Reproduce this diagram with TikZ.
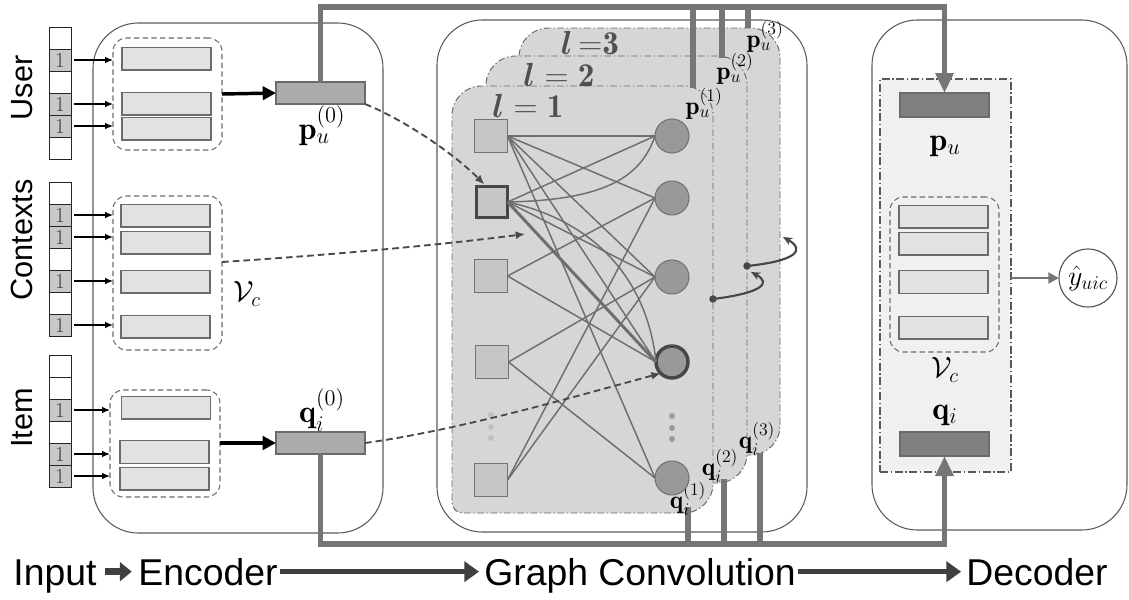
\RequirePackage{fix-cm}
\documentclass[tikz,border=0pt]{standalone}
\usepackage{amsmath}
\usepackage{fontspec}
\newfontfamily\sflab{Liberation Sans}
\usetikzlibrary{arrows.meta,calc}
\definecolor{linegray}{HTML}{767676}
\definecolor{boxedge}{HTML}{5A5A5A}
\definecolor{barfill}{HTML}{E2E2E2}
\definecolor{baredge}{HTML}{6B6B6B}
\definecolor{cellfill}{HTML}{C8C8C8}
\definecolor{layerfill}{HTML}{D6D6D6}
\definecolor{sqfill}{HTML}{C6C6C6}
\definecolor{cirfill}{HTML}{999999}
\definecolor{edgecol}{HTML}{6E6E6E}
\definecolor{darkarrow}{HTML}{4A4A4A}
\definecolor{panelfill}{HTML}{F0F0F0}
\definecolor{pfill}{HTML}{ABABAB}
\definecolor{decfill}{HTML}{808080}
\definecolor{labgray}{HTML}{505050}
\begin{document}
\begin{tikzpicture}[x=0.75pt,y=-0.75pt,
  every node/.style={inner sep=0pt,outer sep=0pt},
  bigbox/.style={draw=boxedge,line width=0.8pt,rounded corners=34pt},
  cellw/.style={draw=black!85,line width=0.6pt,fill=white,minimum width=16.5pt,minimum height=16.5pt},
  cellg/.style={cellw,fill=cellfill,text=black!75,font=\fontsize{16}{16}\selectfont},
  inarr/.style={-{Latex[length=6pt,width=5pt]},line width=0.9pt,black},
  grp/.style={draw=baredge,dash pattern=on 4pt off 2.5pt,line width=0.8pt,rounded corners=10pt},
  bar/.style={draw=baredge,line width=1pt,fill=barfill,minimum width=66.75pt,minimum height=17pt},
  pbar/.style={bar,fill=pfill,minimum height=16.5pt},
  dbar/.style={bar,fill=decfill,minimum height=18pt},
  blk/.style={-{Triangle[length=10pt,width=10pt]},line width=2.6pt,black},
  thk/.style={line width=4.2pt,draw=linegray},
  thkarr/.style={thk,-{Triangle[length=15pt,width=13pt]}},
  layer/.style={draw=black!60,fill=layerfill,line width=0.7pt,dash pattern=on 5pt off 2pt on 1pt off 2pt},
  sq/.style={draw=black!55,fill=sqfill,line width=0.8pt,minimum size=24.75pt},
  cir/.style={circle,draw=black!55,fill=cirfill,line width=0.8pt,minimum size=25.5pt},
  gedge/.style={draw=edgecol,line width=1.1pt},
  dsh/.style={draw=darkarrow,line width=1.4pt,dash pattern=on 5pt off 3pt,-{Latex[length=7pt,width=6pt]}},
  lp/.style={draw=black!72,line width=1.6pt,-{Stealth[length=7pt,width=6pt]}},
  mlab/.style={font=\fontsize{24}{26}\selectfont},
  slab/.style={font=\fontsize{19}{21}\selectfont},
  llab/.style={font=\fontsize{25}{27}\selectfont,text=labgray},
  side/.style={font=\sflab\fontsize{23}{25}\selectfont,rotate=90},
  bottom/.style={font=\sflab\fontsize{28}{30}\selectfont,anchor=base},
  botarr/.style={draw=black!75,line width=3.8pt,-{Triangle[length=11pt,width=15pt]}}
]
\useasboundingbox (0,0) rectangle (1129,600);

% ---------- big boxes ----------
\draw[bigbox] (93,23) rectangle (383,533);
\draw[bigbox] (437,20) rectangle (807,532);
\draw[bigbox] (872,20) rectangle (1127,530);

% ---------- input one-hot columns ----------
\node[cellw] (u0) at (60,38) {};
\node[cellg] (u1) at (60,60) {1};
\node[cellw] (u2) at (60,82) {};
\node[cellg] (u3) at (60,104) {1};
\node[cellg] (u4) at (60,126) {1};
\node[cellw] (u5) at (60,148) {};

\node[cellw] (c0) at (60,193) {};
\node[cellg] (cc1) at (60,215) {1};
\node[cellg] (cc2) at (60,237) {1};
\node[cellw] (cc3) at (60,259) {};
\node[cellg] (cc4) at (60,281) {1};
\node[cellw] (cc5) at (60,303) {};
\node[cellg] (cc6) at (60,325) {1};

\node[cellw] (i0) at (60,366) {};
\node[cellw] (i1) at (60,388) {};
\node[cellg] (i2) at (60,410) {1};
\node[cellw] (i3) at (60,432) {};
\node[cellg] (i4) at (60,454) {1};
\node[cellg] (i5) at (60,476) {1};

\node[side] (userlab) at (22,88) {User};
\node[side] (ctxlab) at (22,240) {Contexts};
\node[side] (itemlab) at (22,418) {Item};

% ---------- encoder groups ----------
\node[grp,minimum width=81.75pt,minimum height=84pt] (ug) at (167.5,94) {};
\node[grp,minimum width=81.75pt,minimum height=115.5pt] (cg) at (167.5,273) {};
\node[grp,minimum width=82.5pt,minimum height=80.25pt] (ig) at (165,443.5) {};

\node[bar] (ub1) at (166.5,58.5) {};
\node[bar] (ub2) at (166.5,103.5) {};
\node[bar] (ub3) at (166.5,128.5) {};
\node[bar] (cb1) at (165.5,215.5) {};
\node[bar] (cb2) at (165.5,242.5) {};
\node[bar] (cb3) at (165.5,281.5) {};
\node[bar] (cb4) at (165.5,326.5) {};
\node[bar] (ib1) at (166,407.5) {};
\node[bar] (ib2) at (164.5,452) {};
\node[bar] (ib3) at (164.5,478.5) {};

\foreach \n/\g in {u1/ug,u3/ug,u4/ug,cc1/cg,cc2/cg,cc4/cg,cc6/cg,i2/ig,i4/ig,i5/ig}
  \draw[inarr] ([xshift=2.5pt]\n.east) -- (\n.east -| \g.west);

\node[font=\fontsize{22}{24}\selectfont] (vc1) at (247,294) {$\mathcal{V}_c$};

\node[pbar] (p0) at (320.5,93) {};
\node[pbar] (q0) at (320.5,443) {};
\node[mlab] (p0lab) at (322,126) {$\mathbf{p}_u^{(0)}$};
\node[mlab] (q0lab) at (322,410) {$\mathbf{q}_i^{(0)}$};

\draw[blk] (ug.east) -- (p0.west);
\draw[blk] (ig.east |- q0) -- (q0.west);

% ---------- layers ----------
\foreach \dx/\dy in {67/-58,34/-30,0/0} {
  \begin{scope}[shift={(\dx,\dy)}]
    \draw[layer] (580,513) [rounded corners=8pt] -- (452,513) [rounded corners=22pt] -- (452,86) -- (713,86) -- (713,513) -- cycle;
  \end{scope}
}
\node[llab] (l1) at (528,106) {$\boldsymbol{l} = \mathbf{1}$};
\node[llab] (l2) at (559,75) {$\boldsymbol{l} = \mathbf{2}$};
\node[llab] (l3) at (590,43) {$\boldsymbol{l}\,{=}\mathbf{3}$};

% ---------- decoder ----------
\node[draw=black!65,fill=panelfill,line width=0.8pt,dash pattern=on 6pt off 2pt on 1pt off 2pt,minimum width=98.25pt,minimum height=294.75pt] (panel) at (945.5,275.5) {};
\node[dbar] (pu) at (944.5,105) {};
\node[dbar] (qi) at (944.5,444) {};
\node[grp,minimum width=81.75pt,minimum height=116.25pt] (dg) at (944.5,274.5) {};
\node[bar] (db1) at (943.5,216.5) {};
\node[bar] (db2) at (943.5,243.5) {};
\node[bar] (db3) at (943.5,282) {};
\node[bar] (db4) at (943.5,327.5) {};
\node[mlab] (pulab) at (945,146) {$\mathbf{p}_u$};
\node[font=\fontsize{22}{24}\selectfont] (vc2) at (945,370) {$\mathcal{V}_c$};
\node[mlab] (qilab) at (945,415) {$\mathbf{q}_i$};
\node[circle,draw=black!70,line width=0.8pt,minimum size=43.5pt] (yh) at (1088,278) {};
\node[font=\fontsize{21}{23}\selectfont] (yhlab) at (yh.center) {$\hat{y}_{uic}$};
\draw[line width=2.2pt,draw=linegray,-{Triangle[length=8pt,width=8pt]}] (panel.east |- yh) -- (yh.west);

% ---------- thick connectors ----------
\coordinate (topR) at (944.5,7);
\coordinate (botR) at (944.5,544);
\draw[thkarr] (p0.north) |- (topR) -- (pu.north);
\draw[thkarr] (q0.south) |- (botR) -- (qi.south);
\coordinate (tb1) at (693,7); \coordinate (te1) at (693,88);
\coordinate (tb2) at (722,7); \coordinate (te2) at (722,58);
\coordinate (tb3) at (748,7); \coordinate (te3) at (748,28);
\coordinate (bb1) at (688,544); \coordinate (be1) at (688,507);
\coordinate (bb2) at (724,544); \coordinate (be2) at (724,479);
\coordinate (bb3) at (760,544); \coordinate (be3) at (760,453);
\draw[thk] (tb1) -- (te1);
\draw[thk] (tb2) -- (te2);
\draw[thk] (tb3) -- (te3);
\draw[thk] (bb1) -- (be1);
\draw[thk] (bb2) -- (be2);
\draw[thk] (bb3) -- (be3);

\node[slab] (pu1) at (704,104) {$\mathbf{p}_u^{(1)}$};
\node[slab] (pu2) at (735,69) {$\mathbf{p}_u^{(2)}$};
\node[slab] (pu3) at (765,37) {$\mathbf{p}_u^{(3)}$};
\node[slab] (qi1) at (688,499) {$\mathbf{q}_i^{(1)}$};
\node[slab] (qi2) at (720,466) {$\mathbf{q}_i^{(2)}$};
\node[slab] (qi3) at (757,439) {$\mathbf{q}_i^{(3)}$};

% ---------- graph ----------
\node[sq] (s1) at (491,136) {};
\node[sq,draw=black!72,line width=2.6pt,minimum size=23.5pt] (s2) at (492,202) {};
\node[sq] (s3) at (491,276) {};
\node[sq] (s4) at (492,362) {};
\node[sq] (s5) at (491,480) {};
\node[cir] (k1) at (672,136) {};
\node[cir] (k2) at (672,198) {};
\node[cir] (k3) at (672,277) {};
\node[cir,draw=black!72,line width=2.6pt,minimum size=24pt] (k4) at (672,362) {};
\node[cir] (k5) at (672,478) {};
\foreach \yy in {415,427,438} \fill[black!25] (491,\yy) circle (2.2pt);
\foreach \yy in {416,428,439} \fill[black!40] (672,\yy) circle (2.2pt);

\foreach \a/\b in {s1/k1,s1/k2,s1/k3,s1/k4,s1/k5,s2/k1,s2/k3,s3/k2,s3/k4,s4/k3,s4/k5,s5/k2,s5/k3}
  \draw[gedge] (\a.east) -- (\b.west);
\draw[gedge,line width=2.2pt] (s2.east) -- (k4.west);
\draw[gedge] (s2.east) .. controls (600,200) and (640,180) .. (k1.west);
\draw[gedge] (s2.east) .. controls (600,222) and (648,285) .. (k4.west);

% ---------- dashed arrows ----------
\coordinate (ctxstart) at ($(cg.east)+(0,-11)$);
\coordinate (ctxend) at (525,234);
\draw[dsh] (p0.south east) .. controls (400,118) and (450,150) .. ($(s2.north west)+(8,-2)$);
\draw[dsh] (ctxstart) .. controls (330,255) and (440,245) .. (ctxend);
\draw[dsh] (q0.east) .. controls (460,430) and (580,395) .. (k4.south west);

% ---------- loops ----------
\coordinate (d1) at (713,299);
\coordinate (d2) at (747,266);
\coordinate (t1) at (751,272);
\coordinate (t2) at (783,237);
\fill[black!72] (d1) circle (2.8pt);
\fill[black!72] (d2) circle (2.8pt);
\draw[lp] (d1) .. controls (762,293) and (772,283) .. (t1);
\draw[lp] (d2) .. controls (796,261) and (806,250) .. (t2);

% ---------- bottom pipeline ----------
\node[bottom] (inp) at (55,585) {Input};
\node[bottom] (enc) at (208,585) {Encoder};
\node[bottom] (gcn) at (640,585) {Graph Convolution};
\node[bottom] (dec) at (1037,585) {Decoder};
\draw[botarr,line width=5pt,-{Triangle[length=9pt,width=14pt]}] ([xshift=6pt,yshift=10pt]inp.base east) -- ([xshift=-5pt,yshift=10pt]enc.base west);
\draw[botarr] ([xshift=2pt,yshift=10pt]enc.base east) -- ([xshift=-4pt,yshift=10pt]gcn.base west);
\draw[botarr] ([xshift=2pt,yshift=10pt]gcn.base east) -- ([xshift=-4pt,yshift=10pt]dec.base west);
\end{tikzpicture}
\end{document}
